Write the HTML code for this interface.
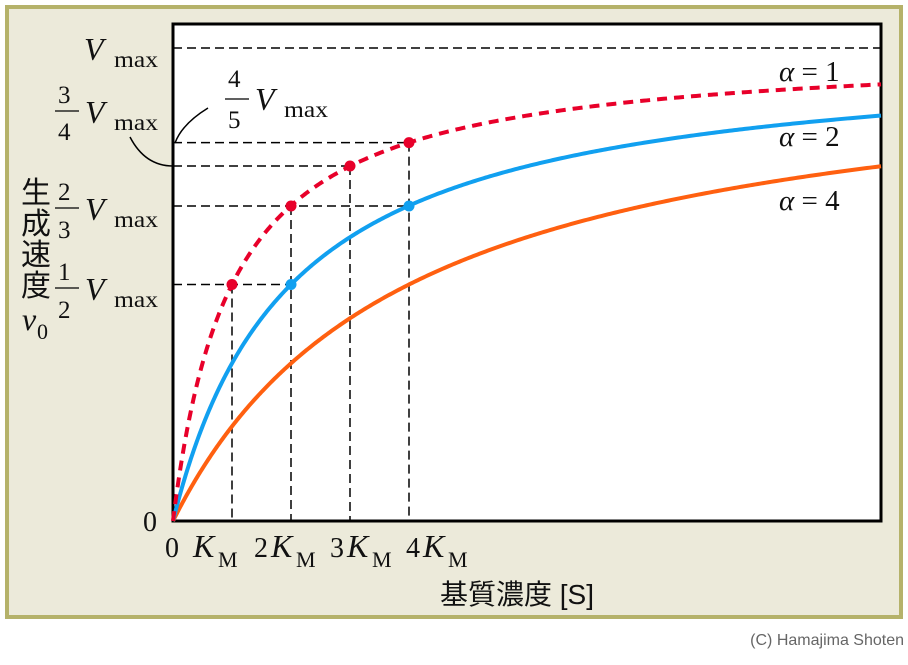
<!DOCTYPE html><html><head><meta charset="utf-8"><style>
body{margin:0;background:#fff;width:908px;height:660px;overflow:hidden}
svg text{font-family:"Liberation Serif","Noto Serif CJK SC",serif;fill:#111}
.i{font-style:italic}
</style></head><body>
<svg width="908" height="660" viewBox="0 0 908 660" xmlns="http://www.w3.org/2000/svg">
<rect x="7" y="7" width="894" height="610" fill="#eceada" stroke="#b5b26a" stroke-width="4"/>
<rect x="173" y="24" width="708" height="497" fill="#fff" stroke="#000" stroke-width="3"/>
<g stroke="#000" stroke-width="1.5" stroke-dasharray="9,5" fill="none">
<line x1="173" y1="48" x2="881" y2="48"/>
<line x1="173" y1="142.6" x2="409" y2="142.6"/>
<line x1="173" y1="166" x2="350" y2="166"/>
<line x1="173" y1="206" x2="409" y2="206"/>
<line x1="173" y1="284.5" x2="291" y2="284.5"/>
<line x1="232" y1="284.5" x2="232" y2="521"/>
<line x1="291" y1="206" x2="291" y2="521"/>
<line x1="350" y1="166" x2="350" y2="521"/>
<line x1="409" y1="142.6" x2="409" y2="521"/>
</g>
<g id="curves" fill="none" stroke-width="4"></g>
<g fill="#e8002a"><circle cx="232" cy="284.5" r="5.5"/><circle cx="291" cy="206" r="5.5"/><circle cx="350" cy="166" r="5.5"/><circle cx="409" cy="142.6" r="5.5"/></g>
<g fill="#11a0f0"><circle cx="291" cy="284.5" r="5.5"/><circle cx="409" cy="206" r="5.5"/></g>
<g stroke="#000" stroke-width="1.5" fill="none">
<path d="M130,137 Q145,166 173,166"/>
<path d="M208,108 Q182,124 175,143"/>
</g>
<text x="84" y="60" class="i" font-size="32">V</text><text x="114" y="67" font-size="23" textLength="44" lengthAdjust="spacingAndGlyphs">max</text>
<text x="58" y="103" font-size="25">3</text><line x1="55" y1="111" x2="79" y2="111" stroke="#000" stroke-width="1.3"/><text x="58" y="140" font-size="25">4</text>
<text x="85" y="123" class="i" font-size="32">V</text><text x="114" y="130" font-size="23" textLength="44" lengthAdjust="spacingAndGlyphs">max</text>
<text x="228" y="87" font-size="25">4</text><line x1="225" y1="99" x2="249" y2="99" stroke="#000" stroke-width="1.3"/><text x="228" y="128" font-size="25">5</text>
<text x="255" y="110" class="i" font-size="32">V</text><text x="284" y="117" font-size="23" textLength="44" lengthAdjust="spacingAndGlyphs">max</text>
<text x="58" y="200" font-size="25">2</text><line x1="55" y1="208" x2="79" y2="208" stroke="#000" stroke-width="1.3"/><text x="58" y="238" font-size="25">3</text>
<text x="85" y="220" class="i" font-size="32">V</text><text x="114" y="227" font-size="23" textLength="44" lengthAdjust="spacingAndGlyphs">max</text>
<text x="58" y="280" font-size="25">1</text><line x1="55" y1="288" x2="79" y2="288" stroke="#000" stroke-width="1.3"/><text x="58" y="318" font-size="25">2</text>
<text x="85" y="300" class="i" font-size="32">V</text><text x="114" y="307" font-size="23" textLength="44" lengthAdjust="spacingAndGlyphs">max</text>
<g font-size="30">
<text x="21" y="203" style="font-family:'Noto Sans CJK JP',sans-serif">生</text>
<text x="21" y="234" style="font-family:'Noto Sans CJK JP',sans-serif">成</text>
<text x="21" y="265" style="font-family:'Noto Sans CJK JP',sans-serif">速</text>
<text x="21" y="296" style="font-family:'Noto Sans CJK JP',sans-serif">度</text></g>
<text x="22" y="330" class="i" font-size="32">v</text><text x="37" y="339" font-size="22">0</text>
<text x="143" y="531" font-size="28">0</text>
<text x="165" y="557" font-size="28">0</text>
<text x="193" y="557" class="i" font-size="32">K</text><text x="218" y="567" font-size="22">M</text>
<text x="254" y="557" font-size="28">2</text><text x="271" y="557" class="i" font-size="32">K</text><text x="296" y="567" font-size="22">M</text>
<text x="330" y="557" font-size="28">3</text><text x="347" y="557" class="i" font-size="32">K</text><text x="372" y="567" font-size="22">M</text>
<text x="406" y="557" font-size="28">4</text><text x="423" y="557" class="i" font-size="32">K</text><text x="448" y="567" font-size="22">M</text>
<text x="440" y="604" font-size="28" style="font-family:'Liberation Sans','Noto Sans CJK JP',sans-serif">基質濃度 [S]</text>
<text x="779" y="81" font-size="29"><tspan class="i">α</tspan> = 1</text>
<text x="779" y="146" font-size="29"><tspan class="i">α</tspan> = 2</text>
<text x="779" y="210" font-size="29"><tspan class="i">α</tspan> = 4</text>
<text x="904" y="645" font-size="16" text-anchor="end" style="font-family:'Liberation Sans',sans-serif;fill:#666">(C) Hamajima Shoten</text>
</svg>
<script>
var g=document.getElementById('curves');
[[4,'#ff6010',''],[2,'#11a0f0',''],[1,'#e8002a','10,7']].forEach(function(c){
var d='';for(var i=0;i<=400;i++){var s=12*Math.pow(i/400,1.6);var x=173+59*s,y=521-473*s/(c[0]+s);d+=(i?'L':'M')+x.toFixed(2)+','+y.toFixed(2);}
var p=document.createElementNS('http://www.w3.org/2000/svg','path');p.setAttribute('d',d);p.setAttribute('stroke',c[1]);if(c[2])p.setAttribute('stroke-dasharray',c[2]);g.appendChild(p);});
</script>
</body></html>
